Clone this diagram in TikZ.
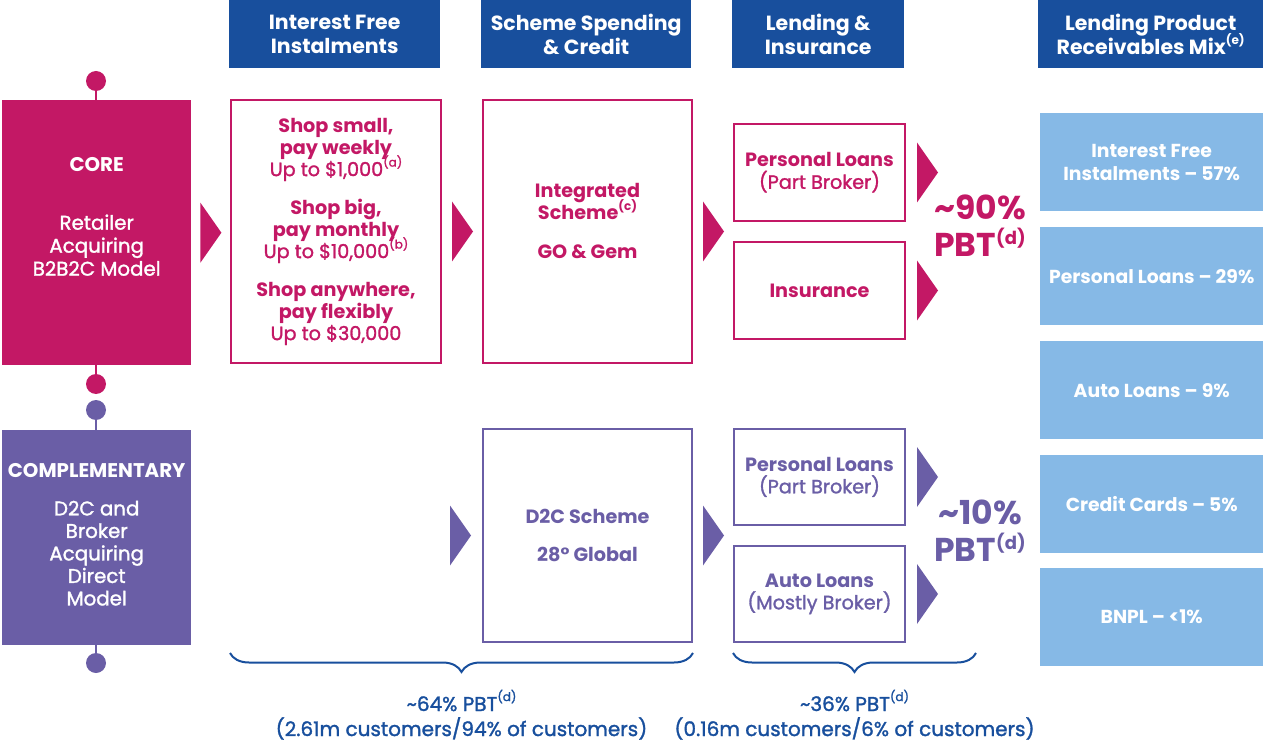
\documentclass[tikz,border=0pt]{standalone}
\usepackage{fontspec}
\setmainfont{Poppins}
\newfontfamily\medfam{Poppins}[FakeBold=1.5]
\newcommand\medf{\medfam\mdseries}
\usetikzlibrary{decorations.pathreplacing,calc}
\definecolor{hblue}{HTML}{184F9D}
\definecolor{mag}{HTML}{C31865}
\definecolor{purp}{HTML}{6A5EA6}
\definecolor{lblue}{HTML}{86B9E6}
\newcommand\sps[1]{\smash{\raisebox{0.5em}{\fontsize{12}{12}\selectfont #1}}}
\newcommand\bsps[1]{\smash{\raisebox{0.36em}{\fontsize{18}{18}\selectfont #1}}}
\begin{document}
\begin{tikzpicture}[x=1pt,y=-1pt,
  hdr/.style={fill=hblue,text=white,font=\bfseries\fontsize{20.5}{24}\selectfont,align=center,inner sep=0pt,minimum height=68,anchor=north west},
  sidebox/.style={inner sep=0pt,anchor=north west,minimum width=189},
  obox/.style={draw=#1,line width=2pt,inner sep=0pt,anchor=north west,text=#1,align=center,font=\bfseries\fontsize{19.2}{22}\selectfont},
  mixbox/.style={fill=lblue,text=white,inner sep=0pt,anchor=north west,minimum width=223,minimum height=98,align=center,font=\bfseries\fontsize{18.8}{23}\selectfont},
  dotnode/.style={circle,fill=#1,inner sep=0pt,minimum size=20},
  pbt/.style={text=#1,align=center,font=\bfseries\fontsize{33}{37}\selectfont},
  brc/.style={draw=hblue,line width=2pt,decorate,decoration={brace,mirror,amplitude=19pt}},
  btxt/.style={text=hblue,align=center,font=\medf\fontsize{20}{25}\selectfont}
]
\path[use as bounding box] (0,0) rectangle (1263,743);

% headers
\node[hdr,minimum width=211] (h1) at (229,0) {Interest Free\\Instalments};
\node[hdr,minimum width=210] (h2) at (481,0) {Scheme Spending\\\& Credit};
\node[hdr,minimum width=172] (h3) at (732,0) {Lending \&\\Insurance};
\node[hdr,minimum width=225] (h4) at (1038,0) {Lending Product\\Receivables Mix\sps{(e)}};

% core side
\node[sidebox,fill=mag,minimum height=265] (core) at (2,100) {};
\node[text=white,align=center,font=\medf\fontsize{19.8}{23}\selectfont] (coret) at ($(core.center)+(0,-16)$)
  {{\fontspec{Poppins}\bfseries CORE}\\[35pt]Retailer\\Acquiring\\B2B2C Model};
\node[dotnode=mag] (cd1) at (96,81) {};
\node[dotnode=mag] (cd2) at (96,384) {};
\draw[mag,line width=2pt] (cd1) -- (cd1 |- core.north);
\draw[mag,line width=2pt] (cd2) -- (cd2 |- core.south);

% complementary side
\node[sidebox,fill=purp,minimum height=215] (comp) at (2,430) {};
\node[text=white,align=center,font=\medf\fontsize{19.8}{22.5}\selectfont] (compt) at ($(comp.center)+(0,-3)$)
  {{\fontspec{Poppins}\bfseries COMPLEMENTARY}\\[15pt]D2C and\\Broker\\Acquiring\\Direct\\Model};
\node[dotnode=purp] (pd1) at (96,410) {};
\node[dotnode=purp] (pd2) at (96,663) {};
\draw[purp,line width=2pt] (pd1) -- (pd1 |- comp.north);
\draw[purp,line width=2pt] (pd2) -- (pd2 |- comp.south);

% core row boxes
\node[obox=mag,minimum width=210,minimum height=263] (b1) at (230,99)
  {Shop small,\\pay weekly\\{\medf Up to \$1,000\sps{(a)}}\\[16pt]
   Shop big,\\pay monthly\\{\medf Up to \$10,000\sps{(b)}}\\[16pt]
   Shop anywhere,\\pay flexibly\\{\medf Up to \$30,000}};
\node[obox=mag,minimum width=209,minimum height=263] (b2) at (482,99) {};
\node[text=mag,align=center,font=\bfseries\fontsize{19.2}{22}\selectfont] (b2t) at ($(b2.center)+(0,-10)$)
  {Integrated\\Scheme\sps{(c)}\\[17pt]GO \& Gem};
\node[obox=mag,minimum width=171,minimum height=97] (pl1) at (733,123)
  {Personal Loans\\{\medf(Part Broker)}};
\node[obox=mag,minimum width=171,minimum height=97] (ins) at (733,241) {Insurance};

% complementary row boxes
\node[obox=purp,minimum width=209,minimum height=213] (d2c) at (482,428)
  {D2C Scheme\\[16pt]28° Global};
\node[obox=purp,minimum width=171,minimum height=96] (pl2) at (733,428)
  {Personal Loans\\{\medf(Part Broker)}};
\node[obox=purp,minimum width=171,minimum height=96] (auto) at (733,545)
  {Auto Loans\\{\medf(Mostly Broker)}};

% triangles core
\fill[mag] ([xshift=9pt]core.east) ++(0,-30) -- ++(21,30) -- ++(-21,30) -- cycle;
\fill[mag] ([xshift=10pt]b1.east) ++(0,-30) -- ++(21,30) -- ++(-21,30) -- cycle;
\fill[mag] ([xshift=10pt]b2.east) ++(0,-30) -- ++(21,30) -- ++(-21,30) -- cycle;
\fill[mag] ([xshift=11pt]pl1.east) ++(0,-30) -- ++(21,30) -- ++(-21,30) -- cycle;
\fill[mag] ([xshift=11pt]ins.east) ++(0,-30) -- ++(21,30) -- ++(-21,30) -- cycle;
% triangles complementary
\fill[purp] ([xshift=-32pt]d2c.west) ++(0,-30) -- ++(21,30) -- ++(-21,30) -- cycle;
\fill[purp] ([xshift=10pt]d2c.east) ++(0,-30) -- ++(21,30) -- ++(-21,30) -- cycle;
\fill[purp] ([xshift=11pt]pl2.east) ++(0,-30) -- ++(21,30) -- ++(-21,30) -- cycle;
\fill[purp] ([xshift=11pt]auto.east) ++(0,-30) -- ++(21,30) -- ++(-21,30) -- cycle;

% PBT labels
\node[pbt=mag] (p90) at (980,226) {\textasciitilde 90\%\\PBT\bsps{(d)}};
\node[pbt=purp] (p10) at (980,531) {\textasciitilde 10\%\\PBT\bsps{(d)}};

% mix boxes
\node[mixbox] (r1) at (1040,113) {Interest Free\\Instalments – 57\%};
\node[mixbox] (r2) at (1040,227) {Personal Loans – 29\%};
\node[mixbox] (r3) at (1040,341) {Auto Loans – 9\%};
\node[mixbox] (r4) at (1040,455) {Credit Cards – 5\%};
\node[mixbox] (r5) at (1040,568) {BNPL – <1\%};

% braces
\coordinate (bl1) at (b1.west |- 0,653);
\coordinate (bl2) at (d2c.east |- 0,653);
\coordinate (br1) at (auto.west |- 0,653);
\coordinate (br2) at (976,653);
\draw[brc] (bl1) -- (bl2);
\draw[brc] (br1) -- (br2);
\node[btxt] (t1) at ($(bl1)!0.5!(bl2)+(0,65)$) {\textasciitilde 64\% PBT\sps{(d)}\\(2.61m customers/94\% of customers)};
\node[btxt] (t2) at ($(br1)!0.5!(br2)+(0,65)$) {\textasciitilde 36\% PBT\sps{(d)}\\(0.16m customers/6\% of customers)};
\end{tikzpicture}
\end{document}
